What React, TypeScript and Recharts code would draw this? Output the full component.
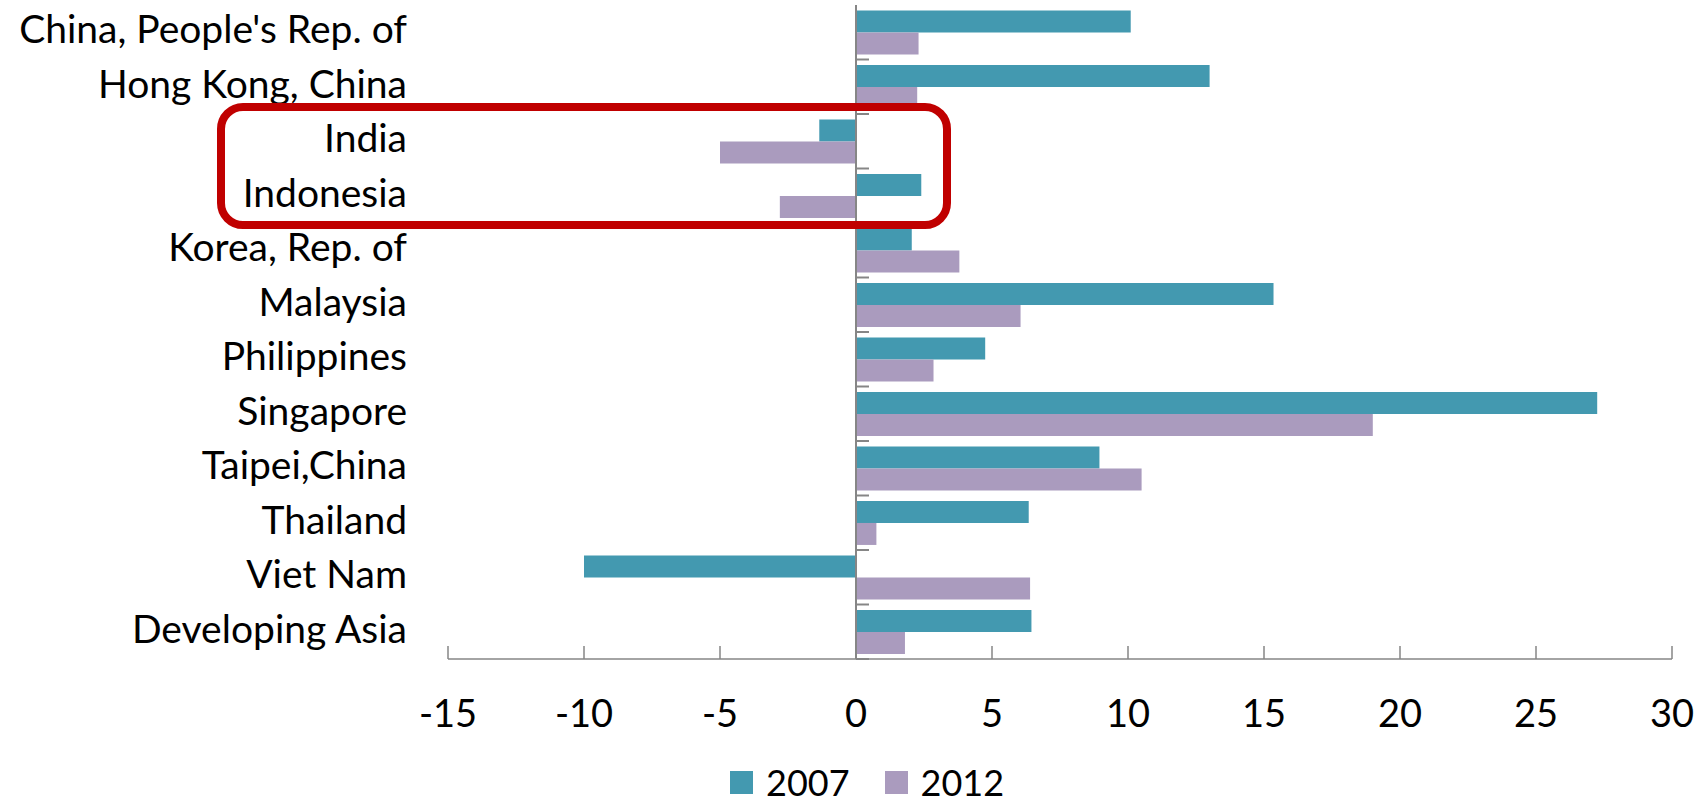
import React from "react";
import {
  BarChart,
  Bar,
  XAxis,
  YAxis,
  Legend,
  ReferenceLine,
} from "recharts";

const categories = [
  "China, People's Rep. of",
  "Hong Kong, China",
  "India",
  "Indonesia",
  "Korea, Rep. of",
  "Malaysia",
  "Philippines",
  "Singapore",
  "Taipei,China",
  "Thailand",
  "Viet Nam",
  "Developing Asia",
];

const values2007 = [10.1, 13.0, -1.35, 2.4, 2.05, 15.35, 4.75, 27.25, 8.95, 6.35, -10.0, 6.45];
const values2012 = [2.3, 2.25, -5.0, -2.8, 3.8, 6.05, 2.85, 19.0, 10.5, 0.75, 6.4, 1.8];

const xTicks = [-15, -10, -5, 0, 5, 10, 15, 20, 25, 30];

const COLORS = { y2007: "#4399B0", y2012: "#AA9BBE" };
const AXIS_GREY = "#868686";
const FONT = "Lato, 'Open Sans', sans-serif";

const data = categories.map((name, i) => ({
  name,
  y2007: values2007[i],
  y2012: values2012[i],
}));

const CategoryTick = ({ x, y, payload }: any) => (
  <text
    x={x - 41}
    y={y}
    dy={11}
    textAnchor="end"
    fontFamily={FONT}
    fontSize={39}
    fill="#000"
  >
    {payload.value}
  </text>
);

const ValueTick = ({ x, y, payload }: any) => (
  <g>
    <line x1={x} y1={y - 13} x2={x} y2={y} stroke={AXIS_GREY} strokeWidth={1.5} />
    <text
      x={x}
      y={y + 68}
      textAnchor="middle"
      fontFamily={FONT}
      fontSize={38}
      fill="#000"
    >
      {payload.value}
    </text>
  </g>
);

// zero line with small ticks at category boundaries
const ZeroAxis = (props: any) => {
  const { x1, y1, y2 } = props;
  const step = (y2 - y1) / categories.length;
  return (
    <g>
      <line x1={x1} y1={y1} x2={x1} y2={y2} stroke={AXIS_GREY} strokeWidth={2} />
      {categories.map((_, i) => (
        <line
          key={i}
          x1={x1}
          x2={x1 + 13}
          y1={y1 + i * step}
          y2={y1 + i * step}
          stroke={AXIS_GREY}
          strokeWidth={2}
        />
      ))}
    </g>
  );
};

const LegendContent = ({ payload }: any) => (
  <div style={{ display: "flex", alignItems: "center", fontFamily: FONT }}>
    {(payload || []).map((entry: any, i: number) => (
      <div
        key={`leg-${i}`}
        style={{ display: "flex", alignItems: "center", marginRight: 35 }}
      >
        <span
          style={{
            width: 23,
            height: 23,
            background: entry.color,
            display: "inline-block",
            marginRight: 13,
          }}
        />
        <span style={{ fontSize: 36, lineHeight: "36px", color: "#000" }}>
          {entry.value}
        </span>
      </div>
    ))}
  </div>
);

export default function App() {
  return (
    <div style={{ position: "relative", width: 1698, height: 804 }}>
      <style>{`body { margin: 0; }`}</style>
      <BarChart
        width={1698}
        height={804}
        data={data}
        layout="vertical"
        margin={{ top: 5, right: 26, left: 0, bottom: 0 }}
        barCategoryGap="10%"
        barGap={0}
      >
        <XAxis
          type="number"
          domain={[-15, 30]}
          ticks={xTicks}
          interval={0}
          height={145}
          axisLine={{ stroke: AXIS_GREY, strokeWidth: 1.5 }}
          tickLine={false}
          tickSize={0}
          tickMargin={0}
          tick={<ValueTick />}
        />
        <YAxis
          type="category"
          dataKey="name"
          width={448}
          axisLine={false}
          tickLine={false}
          tickSize={0}
          tickMargin={0}
          interval={0}
          tick={<CategoryTick />}
        />
        <Bar dataKey="y2007" name="2007" fill={COLORS.y2007} isAnimationActive={false} />
        <Bar dataKey="y2012" name="2012" fill={COLORS.y2012} isAnimationActive={false} />
        <ReferenceLine x={0} shape={<ZeroAxis />} ifOverflow="visible" />
        <Legend
          layout="horizontal"
          verticalAlign="middle"
          align="center"
          content={<LegendContent />}
          wrapperStyle={{ position: "absolute", top: 764, left: 730, width: "auto", height: 36 }}
        />
      </BarChart>
      {/* highlight box around India / Indonesia */}
      <div
        style={{
          position: "absolute",
          left: 217,
          top: 103,
          width: 734,
          height: 126,
          border: "8px solid #C00000",
          borderRadius: 26,
          boxSizing: "border-box",
          pointerEvents: "none",
        }}
      />
    </div>
  );
}
